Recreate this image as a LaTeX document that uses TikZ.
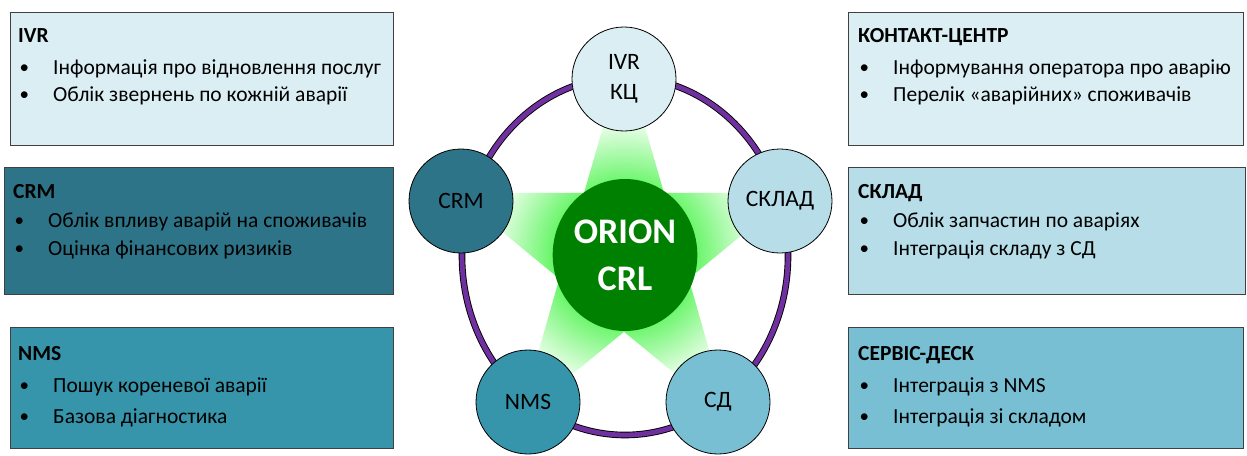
\documentclass[tikz,border=0pt]{standalone}
\usepackage{fontspec}
\setmainfont{Carlito}
\usetikzlibrary{shapes.geometric}

\definecolor{paleblue}{HTML}{DAEEF3}
\definecolor{lightblue}{HTML}{B7DEE8}
\definecolor{midblue}{HTML}{79BFD3}
\definecolor{tealblue}{HTML}{3795AB}
\definecolor{darkteal}{HTML}{2E7488}
\definecolor{ringpurple}{HTML}{7030A0}
\definecolor{coregreen}{HTML}{008000}
\definecolor{glowgreen}{HTML}{5EF55E}

\pgfdeclareradialshading{starglow}{\pgfpoint{0bp}{0bp}}{color(0bp)=(glowgreen); color(9bp)=(glowgreen); color(19bp)=(white); color(50bp)=(white)}

\begin{document}
\begin{tikzpicture}[x=1pt, y=-1pt,
    box/.style={draw=black!75, line width=0.9pt, anchor=north west, inner sep=0pt},
    head/.style={font=\fontsize{21.5}{24}\selectfont\bfseries, inner sep=0pt, anchor=base west},
    item/.style={font=\fontsize{21.5}{24}\selectfont, inner sep=0pt, anchor=base west, execute at begin node={\llap{\raisebox{1pt}{\fontsize{19}{19}\selectfont\textbullet}\hspace{24pt}}}},
    hub/.style={circle, draw=black, line width=0.8pt, minimum size=104pt, inner sep=0pt, align=center, font=\fontsize{23.5}{30}\selectfont},
    ring/.style={draw=ringpurple, line width=4.8pt, preaction={draw=black, line width=6.6pt}}
  ]
  \useasboundingbox (0,0) rectangle (1247,455);

  % ring and glowing star
  \draw[ring] (625,256) ellipse [x radius=163, y radius=179];
  \begin{scope}
    \clip[shift={(624,255)}, yscale=1.13] (-90:178) -- (-54:68) -- (-18:178) -- (18:68) -- (54:178) -- (90:68) -- (126:178) -- (162:68) -- (198:178) -- (234:68) -- cycle;
    \shade[shading=starglow] (624,255) circle [radius=185];
  \end{scope}

  % hubs
  \node[hub, fill=paleblue] (ivr) at (624,79) {IVR\\КЦ};
  \node[hub, fill=darkteal] (crm) at (461,201) {CRM};
  \node[hub, fill=lightblue] (sklad) at (780,201) {СКЛАД};
  \node[hub, fill=tealblue] (nms) at (528,402) {NMS};
  \node[hub, fill=midblue] (sd) at (718,402) {СД};
  \node[ellipse, fill=coregreen, minimum width=140, minimum height=152, inner sep=0pt, align=center, text=white, font=\fontsize{36}{47}\selectfont\bfseries] (core) at (625,255) {ORION\\CRL};

  % left boxes
  \node[box, fill=paleblue, minimum width=383, minimum height=133] (ivrbox) at (10,12) {};
  \node[head] (ivrhead) at ([shift={(8,30)}]ivrbox.north west) {IVR};
  \node[item] (ivrone) at ([shift={(43,62)}]ivrbox.north west) {Інформація про відновлення послуг};
  \node[item] (ivrtwo) at ([shift={(43,89)}]ivrbox.north west) {Облік звернень по кожній аварії};

  \node[box, fill=darkteal, minimum width=389, minimum height=127] (crmbox) at (4,167) {};
  \node[head] (crmhead) at ([shift={(9,31)}]crmbox.north west) {CRM};
  \node[item] (crmone) at ([shift={(44,60)}]crmbox.north west) {Облік впливу аварій на споживачів};
  \node[item] (crmtwo) at ([shift={(44,88)}]crmbox.north west) {Оцінка фінансових ризиків};

  \node[box, fill=tealblue, minimum width=383, minimum height=121] (nmsbox) at (10,327) {};
  \node[head] (nmshead) at ([shift={(8,33)}]nmsbox.north west) {NMS};
  \node[item] (nmsone) at ([shift={(43,65)}]nmsbox.north west) {Пошук кореневої аварії};
  \node[item] (nmstwo) at ([shift={(43,96)}]nmsbox.north west) {Базова діагностика};

  % right boxes
  \node[box, fill=paleblue, minimum width=395, minimum height=133] (kcbox) at (848,12) {};
  \node[head] (kchead) at ([shift={(10,30)}]kcbox.north west) {КОНТАКТ-ЦЕНТР};
  \node[item] (kcone) at ([shift={(45,62)}]kcbox.north west) {Інформування оператора про аварію};
  \node[item] (kctwo) at ([shift={(45,89)}]kcbox.north west) {Перелік «аварійних» споживачів};

  \node[box, fill=lightblue, minimum width=397, minimum height=127] (skladbox) at (848,167) {};
  \node[head] (skladhead) at ([shift={(10,31)}]skladbox.north west) {СКЛАД};
  \node[item] (skladone) at ([shift={(45,60)}]skladbox.north west) {Облік запчастин по аваріях};
  \node[item] (skladtwo) at ([shift={(45,88)}]skladbox.north west) {Інтеграція складу з СД};

  \node[box, fill=midblue, minimum width=395, minimum height=121] (sdbox) at (848,327) {};
  \node[head] (sdhead) at ([shift={(10,33)}]sdbox.north west) {СЕРВІС-ДЕСК};
  \node[item] (sdone) at ([shift={(45,65)}]sdbox.north west) {Інтеграція з NMS};
  \node[item] (sdtwo) at ([shift={(45,96)}]sdbox.north west) {Інтеграція зі складом};
\end{tikzpicture}
\end{document}
